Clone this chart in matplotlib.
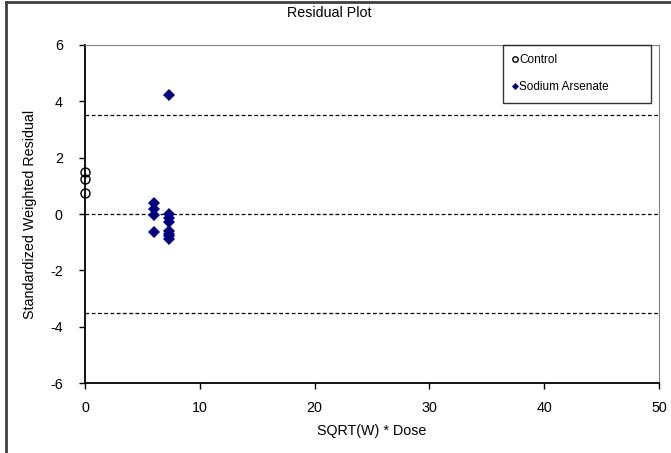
import matplotlib
matplotlib.use("Agg")
import matplotlib.pyplot as plt
from matplotlib.lines import Line2D

plt.rcParams['font.family'] = ['Liberation Sans', 'DejaVu Sans']
plt.rcParams['axes.unicode_minus'] = False

control_x = [0, 0, 0]
control_y = [1.5, 1.23, 0.76]

arsenate_x = [6.0, 6.0, 6.0, 6.0,
              7.35, 7.35, 7.35, 7.35, 7.35, 7.35, 7.35, 7.35]
arsenate_y = [0.38, 0.17, -0.04, -0.65,
              4.2, 0.01, -0.13, -0.27, -0.6, -0.7, -0.78, -0.9]

ref_lines = [3.5, 0, -3.5]
x_ticks = [0, 10, 20, 30, 40, 50]
y_ticks = [-6, -4, -2, 0, 2, 4, 6]

fig = plt.figure(figsize=(6.71, 4.53), dpi=100)
ax = fig.add_axes([85/671, 1 - 383.3/453, (659 - 85)/671, (383.3 - 44.7)/453])

for y in ref_lines:
    ax.axhline(y, color='black', linestyle=(0, (3, 2)), linewidth=0.9, zorder=1)

ax.plot(control_x, control_y, 'o', mfc='none', mec='black', ms=6.5, mew=1,
        linestyle='none', label='Control', zorder=3, clip_on=False)
ax.plot(arsenate_x, arsenate_y, 'D', color='#000080', ms=6, mew=0,
        linestyle='none', label='Sodium Arsenate', zorder=3)

ax.set_xlim(0, 50)
ax.set_ylim(-6, 6)
ax.set_xticks(x_ticks)
ax.set_yticks(y_ticks)
ax.tick_params(direction='out', length=4, width=1, labelsize=10.3, pad=9)
ax.tick_params(axis='y', pad=12)

ax.spines['left'].set_linewidth(1.3)
ax.spines['bottom'].set_linewidth(1.3)
ax.spines['top'].set_color('#808080')
ax.spines['right'].set_color('#808080')

ax.set_xlabel('SQRT(W) * Dose', fontsize=10.3, labelpad=6)
ax.set_ylabel('Standardized Weighted Residual', fontsize=10.3)
ax.yaxis.set_label_coords(-0.084, 0.5)
fig.text(0.49, 0.972, 'Residual Plot', ha='center', va='center', fontsize=10.3)

x0 = (503 - 85) / 574
w = (651 - 503) / 574
h = (101 - 44.7) / 338.6
leg = ax.legend(loc='upper left', bbox_to_anchor=(x0, 1 - h, w, h), mode='expand',
                fontsize=8.5, frameon=True, fancybox=False, edgecolor='black',
                handlelength=0.4, handletextpad=0.15, markerscale=0.6,
                labelspacing=1.3, borderpad=0.8, borderaxespad=0)
leg.get_frame().set_linewidth(1)

# outer chart frame (left and top edges visible)
fig.add_artist(Line2D([6/671, 6/671], [0, 1 - 2/453], color='#404040', lw=2,
                      transform=fig.transFigure))
fig.add_artist(Line2D([6/671, 1], [1 - 2/453, 1 - 2/453], color='#404040', lw=2,
                      transform=fig.transFigure))

fig.savefig('out.png', dpi=100)
